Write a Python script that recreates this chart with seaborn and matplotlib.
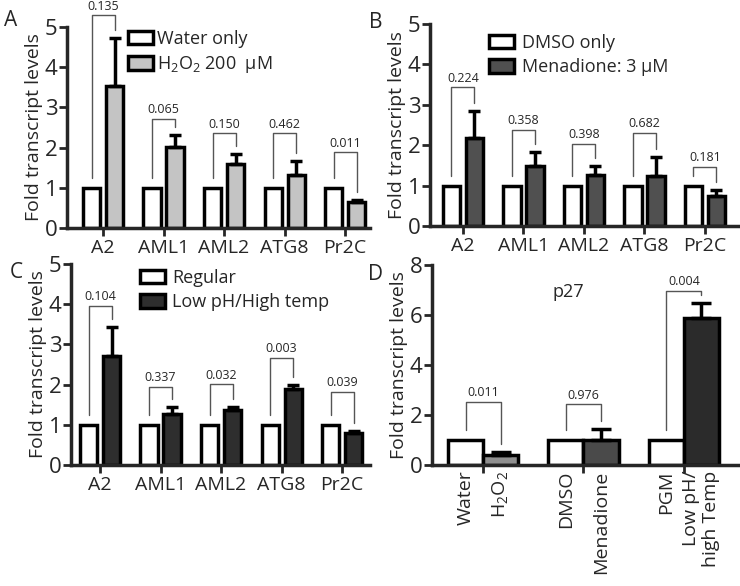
import matplotlib
matplotlib.use("Agg")
import matplotlib.pyplot as plt
from matplotlib.patches import Patch
import seaborn as sns
import pandas as pd

sns.set_style("ticks")
plt.rcParams["font.family"] = ["Open Sans", "DejaVu Sans"]
plt.rcParams["mathtext.fontset"] = "custom"
plt.rcParams["mathtext.rm"] = "Open Sans"

# ---- data ----
genes = ["A2", "AML1", "AML2", "ATG8", "Pr2C"]
control = [1.0, 1.0, 1.0, 1.0, 1.0]

h2o2_mean = [3.53, 2.01, 1.58, 1.33, 0.65]
h2o2_err = [1.20, 0.31, 0.27, 0.33, 0.04]
h2o2_p = ["0.135", "0.065", "0.150", "0.462", "0.011"]
h2o2_bracket = [5.29, 2.72, 2.36, 2.36, 1.89]

mena_mean = [2.19, 1.48, 1.27, 1.24, 0.74]
mena_err = [0.66, 0.36, 0.22, 0.46, 0.15]
mena_p = ["0.224", "0.358", "0.398", "0.682", "0.181"]
mena_bracket = [3.44, 2.38, 2.04, 2.31, 1.47]

stress_mean = [2.72, 1.26, 1.37, 1.90, 0.80]
stress_err = [0.72, 0.19, 0.08, 0.10, 0.05]
stress_p = ["0.104", "0.337", "0.032", "0.003", "0.039"]
stress_bracket = [3.96, 1.95, 2.01, 2.67, 1.82]

p27_groups = ["oxid", "mena", "stress"]
p27_labels = ["Water", "H$_\\mathregular{2}$O$_\\mathregular{2}$", "DMSO", "Menadione",
              "PGM", "Low pH/\nhigh Temp"]
p27_control = [1.0, 1.0, 1.0]
p27_mean = [0.40, 1.00, 5.89]
p27_err = [0.11, 0.44, 0.60]
p27_p = ["0.011", "0.976", "0.004"]
p27_bracket = [2.53, 2.44, 6.97]

W, H = 740, 586
fig = plt.figure(figsize=(7.4, 5.86), dpi=100)


def px_axes(left, right, bottom, top):
    return fig.add_axes([left / W, 1 - bottom / H, (right - left) / W, (bottom - top) / H])


def style_axes(ax, ymax, step):
    sns.despine(ax=ax)
    for s in ["left", "bottom"]:
        ax.spines[s].set_linewidth(2.5)
    ax.set_ylim(0, ymax)
    ax.set_yticks(range(0, ymax + 1, step))
    ax.tick_params(axis="y", length=6, width=2, labelsize=16, pad=1)
    ax.tick_params(axis="x", length=6, width=2, labelsize=14, pad=2)
    ax.set_xlabel("")
    ax.set_ylabel("Fold transcript levels", fontsize=14, labelpad=1)


def add_brackets(ax, xs_c, xs_t, ctrl, mean, err, pvals, levels, ymax):
    for xc, xt, c, m, e, p, top in zip(xs_c, xs_t, ctrl, mean, err, pvals, levels):
        ax.plot([xc, xc, xt, xt], [c + 0.05 * ymax, top, top, m + e + 0.04 * ymax],
                color="#555555", lw=1, clip_on=False)
        ax.text((xc + xt) / 2, top + 0.012 * ymax, p, ha="center", va="bottom", fontsize=9)


def gene_panel(ax, mean, err, pvals, levels, color, names, xlim):
    df = pd.DataFrame({"gene": genes * 2,
                       "group": [names[0]] * 5 + [names[1]] * 5,
                       "value": control + mean})
    sns.barplot(data=df, x="gene", y="value", hue="group", palette=["white", color],
                edgecolor="black", linewidth=2.5, width=0.76, gap=0.25,
                errorbar=None, legend=False, ax=ax)
    xs_c = [b.get_x() + b.get_width() / 2 for b in ax.containers[0]]
    xs_t = [b.get_x() + b.get_width() / 2 for b in ax.containers[1]]
    ax.errorbar(xs_t, mean, yerr=[[0] * 5, err], fmt="none", ecolor="black",
                elinewidth=2.5, capsize=4.5, capthick=2.5)
    add_brackets(ax, xs_c, xs_t, control, mean, err, pvals, levels, 5)
    style_axes(ax, 5, 1)
    ax.set_xlim(*xlim)
    handles = [Patch(facecolor="white", edgecolor="black", linewidth=2.5),
               Patch(facecolor=color, edgecolor="black", linewidth=2.5)]
    return handles


def panel_legend(handles, labels, x, y, textpad):
    fig.legend(handles, labels, loc="upper left", bbox_to_anchor=(x / W, 1 - y / H),
               frameon=False, fontsize=13, handlelength=1.4, handleheight=0.75,
               handletextpad=textpad, labelspacing=0.35, borderpad=0, borderaxespad=0)


# A
axA = px_axes(67, 370, 228, 27)
hA = gene_panel(axA, h2o2_mean, h2o2_err, h2o2_p, h2o2_bracket, "#c4c4c4",
                ["Water only", "H2O2"], (-0.595, 4.41))
panel_legend(hA, ["Water only", "H$_\\mathregular{2}$O$_\\mathregular{2}$ 200  µM"],
             128, 30, 0.2)

# B
axB = px_axes(430, 740, 226, 24)
hB = gene_panel(axB, mena_mean, mena_err, mena_p, mena_bracket, "#505050",
                ["DMSO only", "Menadione"], (-0.545, 4.58))
panel_legend(hB, ["DMSO only", "Menadione: 3 µM"], 489, 34, 0.4)

# C
axC = px_axes(71, 370, 465, 264)
hC = gene_panel(axC, stress_mean, stress_err, stress_p, stress_bracket, "#2e2e2e",
                ["Regular", "Low pH/High temp"], (-0.48, 4.46))
panel_legend(hC, ["Regular", "Low pH/High temp"], 140, 269, 0.4)

# D
axD = px_axes(432, 740, 465, 265)
dfD = pd.DataFrame({"group": p27_groups * 2,
                    "side": ["ctrl"] * 3 + ["trt"] * 3,
                    "value": p27_control + p27_mean})
sns.barplot(data=dfD, x="group", y="value", hue="side", palette=["white", "#333333"],
            edgecolor="black", linewidth=2.5, width=0.7, gap=0,
            errorbar=None, legend=False, ax=axD)
for bar, col in zip(axD.containers[1], ["#8f8f8f", "#4a4a4a", "#2b2b2b"]):
    bar.set_facecolor(col)
xs_c = [b.get_x() + b.get_width() / 2 for b in axD.containers[0]]
xs_t = [b.get_x() + b.get_width() / 2 for b in axD.containers[1]]
axD.errorbar(xs_t, p27_mean, yerr=[[0] * 3, p27_err], fmt="none", ecolor="black",
             elinewidth=2.5, capsize=7, capthick=2.5)
add_brackets(axD, xs_c, xs_t, p27_control, p27_mean, p27_err, p27_p, p27_bracket, 8)
style_axes(axD, 8, 2)
axD.set_xlim(-0.51, 2.56)
axD.set_xticks(range(3))
axD.set_xticklabels([])
minor = [x for pair in zip(xs_c, xs_t) for x in pair]
axD.set_xticks(minor, minor=True)
axD.set_xticklabels(p27_labels, minor=True, rotation=90, fontsize=14, va="top",
                    ma="right", linespacing=1.15)
axD.tick_params(axis="x", which="minor", length=0, pad=4)
fig.text(568 / W, 1 - 292 / H, "p27", fontsize=13, ha="center", va="center")

# panel letters
for letter, x, y in [("A", 11, 21), ("B", 376, 23), ("C", 16, 273), ("D", 375, 274)]:
    fig.text(x / W, 1 - y / H, letter, fontsize=15, ha="center", va="center")

fig.savefig("out.png", dpi=100)
